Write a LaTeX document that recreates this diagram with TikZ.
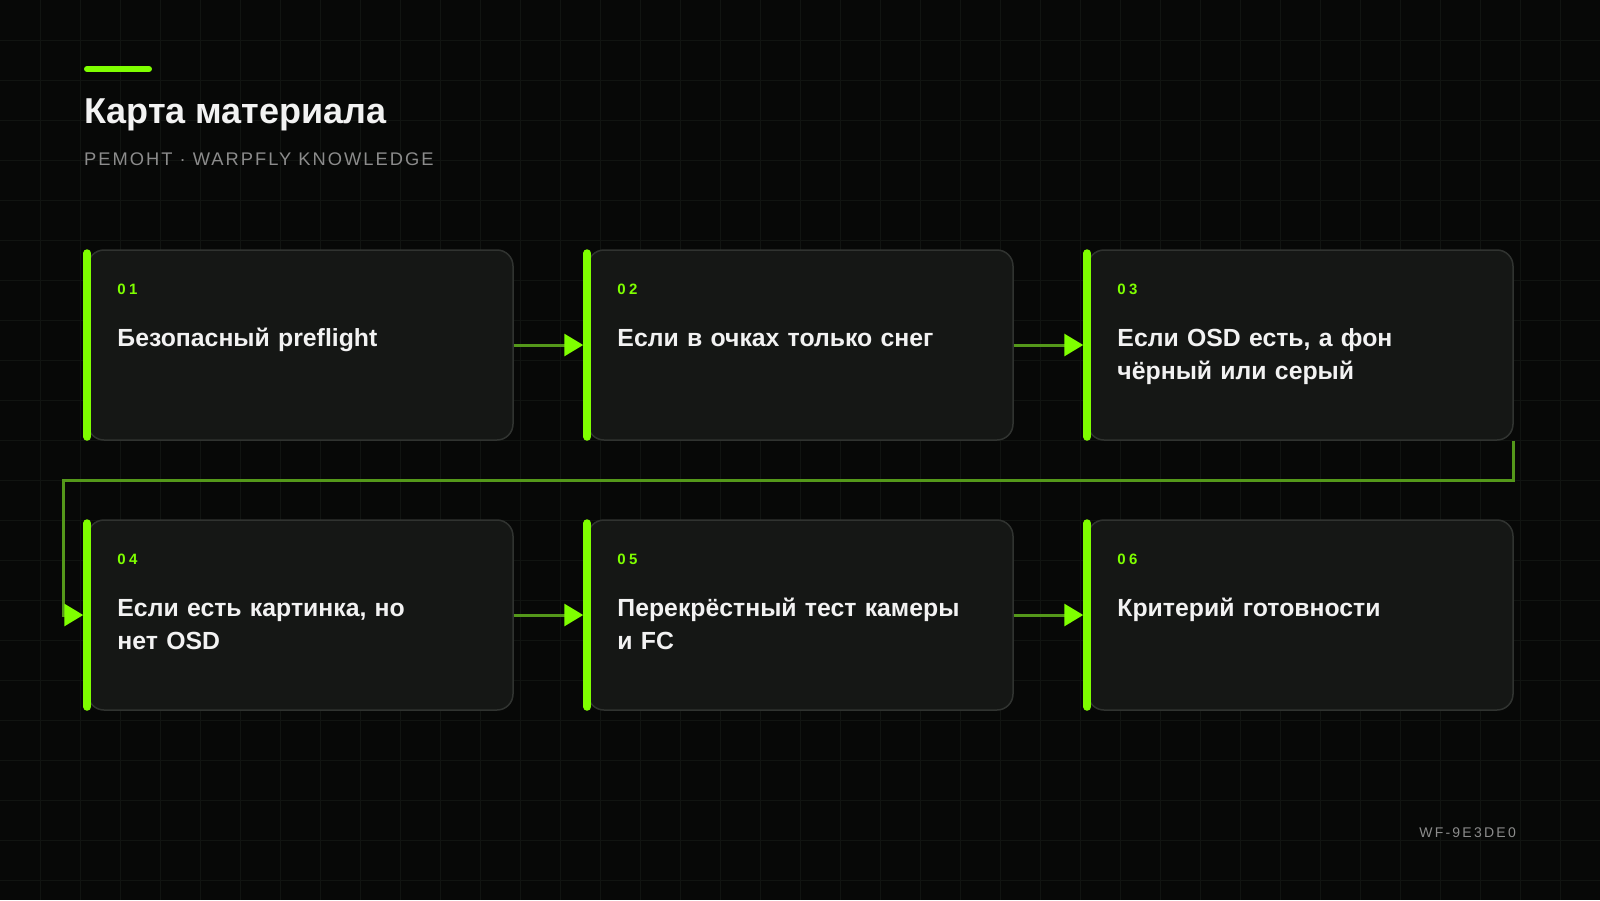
\documentclass[tikz,border=0pt]{standalone}
\usepackage{fontspec}
\setmainfont{Liberation Sans}
\newfontfamily\spacedfont[LetterSpace=11]{Liberation Sans}
\newfontfamily\tagfont[LetterSpace=16]{Liberation Sans}
\newfontfamily\numfont[LetterSpace=22]{Liberation Sans}
\usetikzlibrary{positioning,calc,arrows.meta}
\definecolor{bgcol}{HTML}{070807}
\definecolor{gridcol}{HTML}{111411}
\definecolor{boxcol}{HTML}{151715}
\definecolor{edgecol}{HTML}{303330}
\definecolor{accent}{HTML}{7FFF00}
\definecolor{wirecol}{HTML}{54981A}
\definecolor{inkcol}{HTML}{F2F2F2}
\definecolor{mutecol}{HTML}{8C8C8C}
\tikzset{
  card/.style={draw=edgecol,line width=1.5pt,fill=boxcol,rounded corners=16pt,
    minimum width=425pt,minimum height=190pt,inner sep=0pt},
  cardbar/.style={draw=accent,line width=8pt,line cap=round,shorten <=4pt,shorten >=4pt},
  cardnum/.style={anchor=base west,inner sep=0pt,text=accent,font=\numfont\bfseries\fontsize{15}{18}\selectfont},
  cardtitle/.style={anchor=base west,inner sep=0pt,text=inkcol,text width=370pt,align=left,
    font=\bfseries\fontsize{24.8}{33.5}\selectfont},
  flow/.style={draw=wirecol,line width=3pt,shorten >=4pt,
    -{Triangle[length=19pt,width=22pt,color=accent]}},
  gridline/.style={draw=gridcol,line width=1pt}
}
\begin{document}
\begin{tikzpicture}[x=1pt,y=-1pt]
\useasboundingbox (0,0) rectangle (1600,900);
\fill[bgcol] (0,0) rectangle (1600,900);
\foreach \gx in {40,80,...,1560} \draw[gridline] (\gx,0) -- (\gx,900);
\foreach \gy in {40,80,...,880} \draw[gridline] (0,\gy) -- (1600,\gy);
% heading
\draw[accent,line width=6pt,line cap=round] (87,69) -- (149,69);
\node[anchor=base west,inner sep=0pt,text=inkcol,font=\bfseries\fontsize{36}{42}\selectfont] (title) at (84,123) {Карта материала};
\node[anchor=base west,inner sep=0pt,text=mutecol,font=\spacedfont\fontsize{18.3}{22}\selectfont] (subtitle) at (84,165) {РЕМОНТ · WARPFLY KNOWLEDGE};
% cards
\node[card] (b1) at (300.5,345) {};
\node[card] (b2) at (800.5,345) {};
\node[card] (b3) at (1300.5,345) {};
\node[card] (b4) at (300.5,615) {};
\node[card] (b5) at (800.5,615) {};
\node[card] (b6) at (1300.5,615) {};
\foreach \b in {b1,b2,b3,b4,b5,b6}
  \draw[cardbar] (\b.north west) -- (\b.south west);
\node[cardnum] (n1) at ($(b1.north west)+(30,45)$) {01};
\node[cardnum] (n2) at ($(b2.north west)+(30,45)$) {02};
\node[cardnum] (n3) at ($(b3.north west)+(30,45)$) {03};
\node[cardnum] (n4) at ($(b4.north west)+(30,45)$) {04};
\node[cardnum] (n5) at ($(b5.north west)+(30,45)$) {05};
\node[cardnum] (n6) at ($(b6.north west)+(30,45)$) {06};
\node[cardtitle] (t1) at ($(b1.north west)+(30,97)$) {Безопасный preflight};
\node[cardtitle] (t2) at ($(b2.north west)+(30,97)$) {Если в очках только снег};
\node[cardtitle] (t3) at ($(b3.north west)+(30,97)$) {Если OSD есть, а фон\\чёрный или серый};
\node[cardtitle] (t4) at ($(b4.north west)+(30,97)$) {Если есть картинка, но\\нет OSD};
\node[cardtitle] (t5) at ($(b5.north west)+(30,97)$) {Перекрёстный тест камеры\\и FC};
\node[cardtitle] (t6) at ($(b6.north west)+(30,97)$) {Критерий готовности};
% connectors
\coordinate (turn) at (63,480);
\draw[flow] (b1.east) -- (b2.west);
\draw[flow] (b2.east) -- (b3.west);
\draw[flow] (b3.south east) |- (turn) |- (b4.west);
\draw[flow] (b4.east) -- (b5.west);
\draw[flow] (b5.east) -- (b6.west);
% footer
\node[anchor=base east,inner sep=0pt,text=mutecol,font=\tagfont\fontsize{14}{17}\selectfont] (tag) at (1516,837) {WF-9E3DE0};
\end{tikzpicture}
\end{document}
